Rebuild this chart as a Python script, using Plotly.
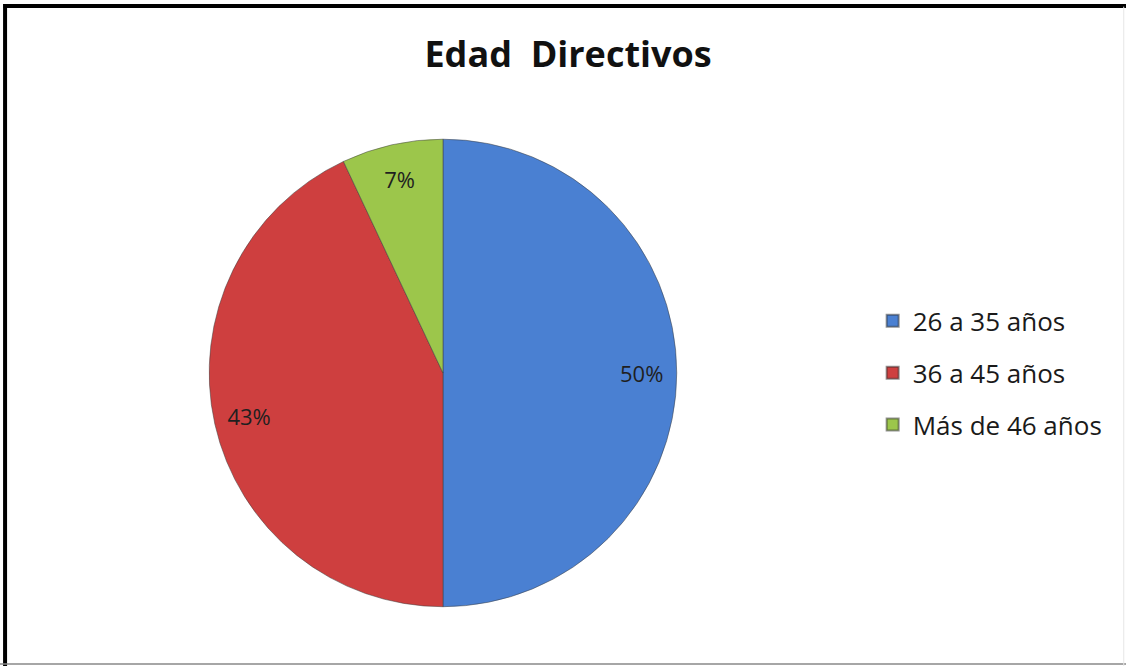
import plotly.graph_objects as go

categories = ["26 a 35 años", "36 a 45 años", "Más de 46 años"]
values = [50, 43, 7]
colors = ["#4A80D2", "#CE3F3F", "#9CC64B"]

FONT = "Open Sans, Liberation Sans, sans-serif"
pie_domain = dict(x=[0.1856, 0.6012], y=[0.089, 0.791])

fig = go.Figure()
# Main pie (colours)
fig.add_trace(go.Pie(
    labels=categories, values=values, sort=False, direction="clockwise", rotation=0,
    marker=dict(colors=colors, line=dict(color="rgba(60,60,60,0.5)", width=1)),
    textinfo="none", hoverinfo="label+percent",
    domain=pie_domain, showlegend=False,
))
# Transparent ring to place percent labels near the outer edge
fig.add_trace(go.Pie(
    labels=categories, values=values, sort=False, direction="clockwise", rotation=0,
    hole=0.70,
    marker=dict(colors=["rgba(0,0,0,0)"] * 3, line=dict(width=0)),
    textinfo="percent", texttemplate="%{percent:.0%}", textposition="inside",
    insidetextorientation="horizontal",
    textfont=dict(family=FONT, size=22, color="#1f1f1f"),
    domain=pie_domain, showlegend=False, hoverinfo="skip",
))
# Legend entries (one group per category so spacing can be controlled)
for name, col in zip(categories, colors):
    fig.add_trace(go.Scatter(
        x=[None], y=[None], mode="markers", name=name, legendgroup=name,
        marker=dict(symbol="square", size=14, color=col, line=dict(color="rgba(40,40,40,0.5)", width=1)),
        showlegend=True,
    ))

fig.update_layout(
    width=1126, height=666,
    margin=dict(l=0, r=0, t=0, b=0),
    paper_bgcolor="white", plot_bgcolor="white",
    xaxis=dict(visible=False), yaxis=dict(visible=False),
    title=dict(text="<b>Edad  Directivos</b>", x=0.5045, xanchor="center", y=0.918, yanchor="middle",
               font=dict(family=FONT, size=36, color="#111111")),
    legend=dict(x=0.775, y=0.44, xanchor="left", yanchor="middle",
                font=dict(family=FONT, size=26, color="#1a1a1a"),
                itemsizing="constant", tracegroupgap=15, bgcolor="rgba(0,0,0,0)"),
    shapes=[
        dict(type="line", xref="paper", yref="paper", x0=0.003, x1=1.0, y0=0.991, y1=0.991,
             line=dict(color="black", width=4)),
        dict(type="line", xref="paper", yref="paper", x0=0.0045, x1=0.0045, y0=0.0, y1=0.994,
             line=dict(color="black", width=4)),
        dict(type="line", xref="paper", yref="paper", x0=0.0, x1=1.0, y0=0.003, y1=0.003,
             line=dict(color="#888888", width=1.5)),
        dict(type="line", xref="paper", yref="paper", x0=0.998, x1=0.998, y0=0.0, y1=0.99,
             line=dict(color="#e6e6e6", width=1)),
    ],
)
fig.write_html("out.html", config={"displayModeBar": False},
               post_script="document.body.style.margin='0';")
